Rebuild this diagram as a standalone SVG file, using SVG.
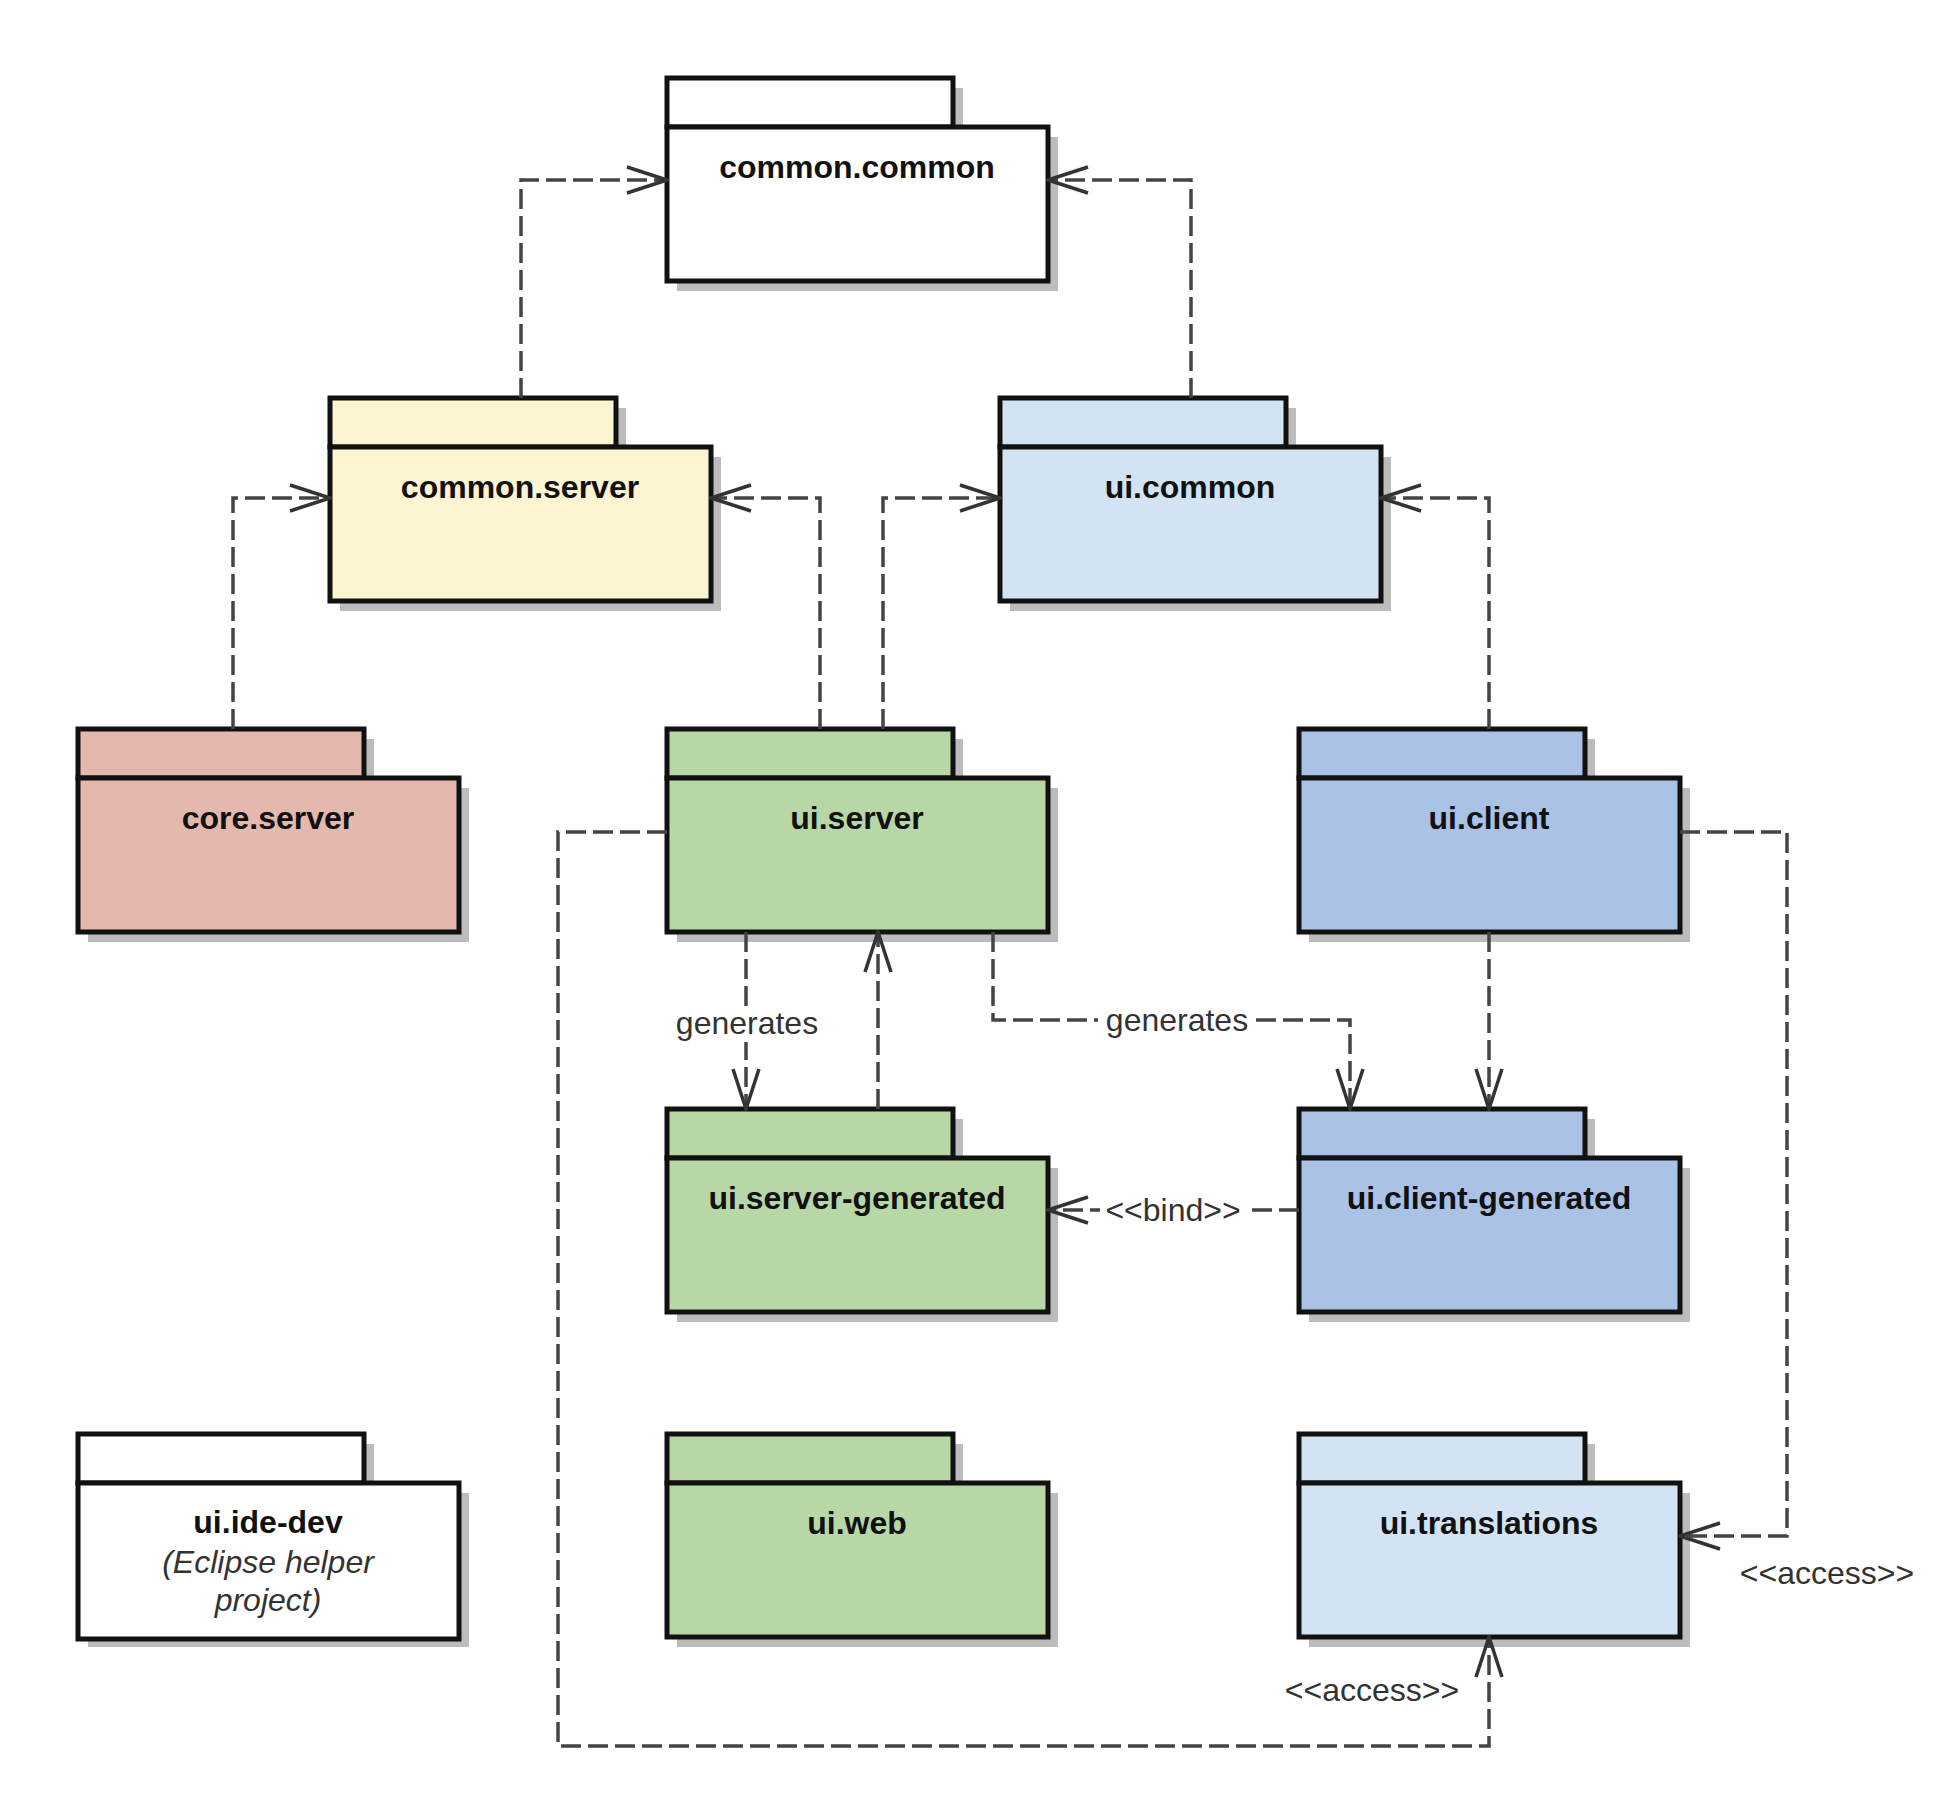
<svg xmlns="http://www.w3.org/2000/svg" width="1933" height="1812" viewBox="0 0 1933 1812">
<style>
.shadow{fill:#bcbcbc}
.pk{stroke:#111;stroke-width:5;stroke-linejoin:miter}
.white{fill:#ffffff}
.yellow{fill:#fdf4d2}
.lblue{fill:#d2e4f3}
.pink{fill:#e5b8ae}
.green{fill:#b7d7a7}
.blue{fill:#a9c2e6}
.title{font-family:"Liberation Sans",Arial,sans-serif;font-weight:bold;font-size:32px;fill:#111;text-anchor:middle}
.note{font-family:"Liberation Sans",Arial,sans-serif;font-style:italic;font-size:32px;fill:#333;text-anchor:middle}
.lbl{font-family:"Liberation Sans",Arial,sans-serif;font-size:32px;fill:#333;text-anchor:middle}
.conn{fill:none;stroke:#444;stroke-width:3.5;stroke-dasharray:20 7}
.bg{fill:#ffffff}
</style>
<defs>
<path id="pkshape" d="M0,0 h286 v49 h95 v154 h-381 z"/>
<marker id="arr" viewBox="0 0 44 30" refX="42" refY="15" markerWidth="44" markerHeight="30" orient="auto" markerUnits="userSpaceOnUse">
<path d="M2,2 L42,15 L2,28" fill="none" stroke="#333" stroke-width="3.5" stroke-dasharray="none"/>
</marker>
</defs>
<rect x="0" y="0" width="1933" height="1812" fill="#ffffff"/>

<g id="common-common">
<use href="#pkshape" x="677" y="88" class="shadow"/>
<rect x="667" y="78" width="286" height="49" class="pk white"/>
<rect x="667" y="127" width="381" height="154" class="pk white"/>
<text x="857" y="178" class="title">common.common</text>
</g>

<g id="common-server">
<use href="#pkshape" x="340" y="408" class="shadow"/>
<rect x="330" y="398" width="286" height="49" class="pk yellow"/>
<rect x="330" y="447" width="381" height="154" class="pk yellow"/>
<text x="520" y="498" class="title">common.server</text>
</g>

<g id="ui-common">
<use href="#pkshape" x="1010" y="408" class="shadow"/>
<rect x="1000" y="398" width="286" height="49" class="pk lblue"/>
<rect x="1000" y="447" width="381" height="154" class="pk lblue"/>
<text x="1190" y="498" class="title">ui.common</text>
</g>

<g id="core-server">
<use href="#pkshape" x="88" y="739" class="shadow"/>
<rect x="78" y="729" width="286" height="49" class="pk pink"/>
<rect x="78" y="778" width="381" height="154" class="pk pink"/>
<text x="268" y="829" class="title">core.server</text>
</g>

<g id="ui-server">
<use href="#pkshape" x="677" y="739" class="shadow"/>
<rect x="667" y="729" width="286" height="49" class="pk green"/>
<rect x="667" y="778" width="381" height="154" class="pk green"/>
<text x="857" y="829" class="title">ui.server</text>
</g>

<g id="ui-client">
<use href="#pkshape" x="1309" y="739" class="shadow"/>
<rect x="1299" y="729" width="286" height="49" class="pk blue"/>
<rect x="1299" y="778" width="381" height="154" class="pk blue"/>
<text x="1489" y="829" class="title">ui.client</text>
</g>

<g id="ui-server-generated">
<use href="#pkshape" x="677" y="1119" class="shadow"/>
<rect x="667" y="1109" width="286" height="49" class="pk green"/>
<rect x="667" y="1158" width="381" height="154" class="pk green"/>
<text x="857" y="1209" class="title">ui.server-generated</text>
</g>

<g id="ui-client-generated">
<use href="#pkshape" x="1309" y="1119" class="shadow"/>
<rect x="1299" y="1109" width="286" height="49" class="pk blue"/>
<rect x="1299" y="1158" width="381" height="154" class="pk blue"/>
<text x="1489" y="1209" class="title">ui.client-generated</text>
</g>

<g id="ui-ide-dev">
<use href="#pkshape" x="88" y="1444" class="shadow"/>
<rect x="78" y="1434" width="286" height="49" class="pk white"/>
<rect x="78" y="1483" width="381" height="156" class="pk white"/>
<text x="268" y="1533" class="title">ui.ide-dev</text>
<text x="268" y="1573" class="note">(Eclipse helper</text>
<text x="268" y="1611" class="note">project)</text>
</g>

<g id="ui-web">
<use href="#pkshape" x="677" y="1444" class="shadow"/>
<rect x="667" y="1434" width="286" height="49" class="pk green"/>
<rect x="667" y="1483" width="381" height="154" class="pk green"/>
<text x="857" y="1534" class="title">ui.web</text>
</g>

<g id="ui-translations">
<use href="#pkshape" x="1309" y="1444" class="shadow"/>
<rect x="1299" y="1434" width="286" height="49" class="pk lblue"/>
<rect x="1299" y="1483" width="381" height="154" class="pk lblue"/>
<text x="1489" y="1534" class="title">ui.translations</text>
</g>

<g id="connectors">
<path class="conn" d="M521,398 V180 H667" marker-end="url(#arr)"/>
<path class="conn" d="M1191,398 V180 H1048" marker-end="url(#arr)"/>
<path class="conn" d="M233,729 V498 H330" marker-end="url(#arr)"/>
<path class="conn" d="M820,729 V498 H711" marker-end="url(#arr)"/>
<path class="conn" d="M883,729 V498 H1000" marker-end="url(#arr)"/>
<path class="conn" d="M1489,729 V498 H1381" marker-end="url(#arr)"/>
<path class="conn" d="M746,932 V1109" marker-end="url(#arr)"/>
<path class="conn" d="M878,1109 V932" marker-end="url(#arr)"/>
<path class="conn" d="M993,932 V1020 H1350 V1109" marker-end="url(#arr)"/>
<path class="conn" d="M1489,932 V1109" marker-end="url(#arr)"/>
<path class="conn" d="M1299,1210 H1048" marker-end="url(#arr)"/>
<path class="conn" d="M1680,832 H1787 V1536 H1680" marker-end="url(#arr)"/>
<path class="conn" d="M667,832 H558 V1746 H1489 V1637" marker-end="url(#arr)"/>
<rect x="671" y="1006" width="152" height="36" class="bg"/>
<text x="747" y="1034" class="lbl">generates</text>
<rect x="1098" y="1002" width="158" height="36" class="bg"/>
<text x="1177" y="1031" class="lbl">generates</text>
<rect x="1100" y="1192" width="146" height="36" class="bg"/>
<text x="1173" y="1221" class="lbl">&lt;&lt;bind&gt;&gt;</text>
<text x="1827" y="1584" class="lbl">&lt;&lt;access&gt;&gt;</text>
<text x="1372" y="1701" class="lbl">&lt;&lt;access&gt;&gt;</text>
</g>
</svg>
